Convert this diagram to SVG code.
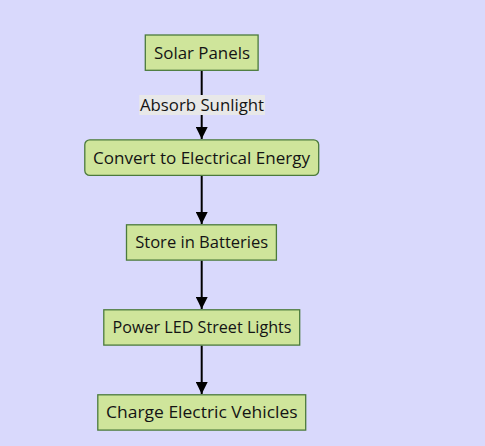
<svg xmlns="http://www.w3.org/2000/svg" width="485" height="446" viewBox="0 0 485 446">
<style>
.n rect{fill:#cfe59b;stroke:#4b7a3c;stroke-width:1.3}
text{font-family:"Open Sans","DejaVu Sans",sans-serif;font-size:16px;fill:#141414;text-anchor:middle;dominant-baseline:central}
.e{stroke:#000;stroke-width:2;fill:none;marker-end:url(#ah)}
</style>
<defs>
<marker id="ah" viewBox="0 0 12 12" refX="12" refY="6" markerWidth="12" markerHeight="12" markerUnits="userSpaceOnUse" orient="auto">
<path d="M0,0 L12,6 L0,12 Z" fill="#000"/>
</marker>
</defs>
<rect width="485" height="446" fill="#d9d9fc"/>
<g id="connectors">
<path class="e" d="M201.7,70.7 V139"/>
<path class="e" d="M201.7,176 V224"/>
<path class="e" d="M201.7,260.5 V309"/>
<path class="e" d="M201.7,345.5 V394"/>
<rect x="139.3" y="95" width="125.7" height="20" fill="#e8e8e8"/>
<text x="202" y="105" textLength="124" lengthAdjust="spacingAndGlyphs">Absorb Sunlight</text>
</g>
<g id="solar" class="n"><rect x="145.3" y="35" width="112.8" height="35.3"/><text x="202" y="52.7" textLength="96" lengthAdjust="spacingAndGlyphs">Solar Panels</text></g>
<g id="convert" class="n"><rect x="84.8" y="139.8" width="233.9" height="35.6" rx="5"/><text x="201.5" y="157.6" textLength="217" lengthAdjust="spacingAndGlyphs">Convert to Electrical Energy</text></g>
<g id="store" class="n"><rect x="126.5" y="224.8" width="149.9" height="35.3"/><text x="201.7" y="242.4" textLength="133" lengthAdjust="spacingAndGlyphs">Store in Batteries</text></g>
<g id="power" class="n"><rect x="103.8" y="309.8" width="195.9" height="35.3"/><text x="202" y="327.4" textLength="179" lengthAdjust="spacingAndGlyphs">Power LED Street Lights</text></g>
<g id="charge" class="n"><rect x="97.8" y="394.8" width="207.9" height="35.3"/><text x="201.8" y="412.4" textLength="191.5" lengthAdjust="spacingAndGlyphs">Charge Electric Vehicles</text></g>
</svg>
